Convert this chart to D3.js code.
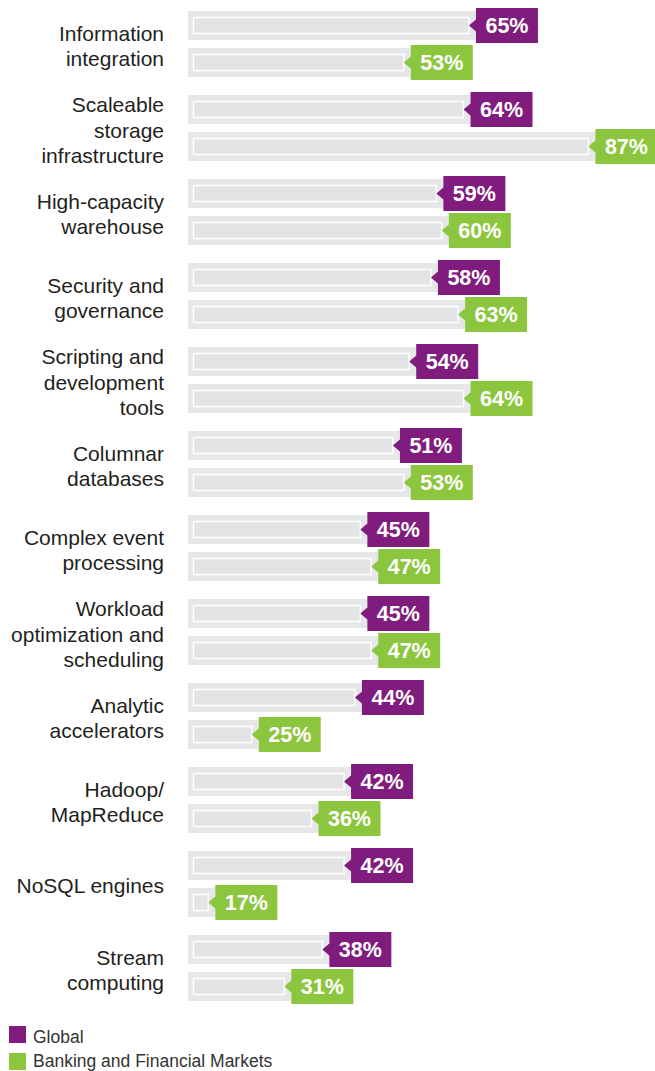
<!DOCTYPE html>
<html>
<head>
<meta charset="utf-8">
<script src="https://cdn.jsdelivr.net/npm/d3@7"></script>
<style>
  body { margin: 0; background: #fff; }
  svg { display: block; }
</style>
</head>
<body>
<svg id="chart"></svg>
<script>
const width = 655;
const height = 1071;

// categories, "|" marks a line break in the label
const categories = [
  "Information|integration",
  "Scaleable|storage|infrastructure",
  "High-capacity|warehouse",
  "Security and|governance",
  "Scripting and|development|tools",
  "Columnar|databases",
  "Complex event|processing",
  "Workload|optimization and|scheduling",
  "Analytic|accelerators",
  "Hadoop/|MapReduce",
  "NoSQL engines",
  "Stream|computing"
];
const globalValues  = [65, 64, 59, 58, 54, 51, 45, 45, 44, 42, 42, 38];
const bankingValues = [53, 87, 60, 63, 64, 53, 47, 47, 25, 36, 17, 31];
const seriesKeys = ["global", "banking"];
const seriesNames = ["Global", "Banking and Financial Markets"];
const seriesColors = ["#7f1c7d", "#8cc63f"];

const rows = categories.map((c, i) => ({
  name: c,
  values: [globalValues[i], bankingValues[i]]
}));

const svg = d3.select("#chart")
    .attr("width", width)
    .attr("height", height)
    .attr("viewBox", [0, 0, width, height]);

const x = d3.scaleLinear([0, 100], [123, 666]);
const y0 = d3.scaleBand(categories, [11, 1001]).paddingInner(18 / 84).paddingOuter(0);
const y1 = d3.scaleBand(seriesKeys, [0, y0.bandwidth()]).paddingInner(8 / 37).paddingOuter(0);

const trackStart = 188;
const notch = 7;
const boxW = 62;

const group = svg.append("g").selectAll("g")
  .data(rows)
  .join("g")
    .attr("transform", d => `translate(0,${y0(d.name)})`);

// category labels
group.append("text")
    .attr("text-anchor", "end")
    .attr("font-family", "'Liberation Sans', Arial, sans-serif")
    .attr("font-size", "21px")
    .attr("fill", "#231f20")
    .each(function(d) {
      const lines = d.name.split("|");
      const first = y0.bandwidth() / 2 + 9 - (lines.length - 1) * 12.5;
      d3.select(this).selectAll("tspan")
        .data(lines)
        .join("tspan")
          .attr("x", 164)
          .attr("y", (l, i) => first + i * 25.5)
          .text(l => l);
    });

const bar = group.selectAll("g.bar")
  .data(d => d.values.map((v, i) => ({key: seriesKeys[i], value: v, color: seriesColors[i]})))
  .join("g")
    .attr("class", "bar")
    .attr("transform", d => `translate(0,${y1(d.key)})`);

const bh = y1.bandwidth();

// outer grey track
bar.append("rect")
    .attr("x", trackStart)
    .attr("y", 0)
    .attr("width", d => x(d.value) - trackStart)
    .attr("height", bh)
    .attr("fill", "#e6e7e8");

// inner outlined track
bar.append("rect")
    .attr("x", trackStart + 5.5)
    .attr("y", 6.5)
    .attr("width", d => x(d.value) - notch - trackStart - 5.5)
    .attr("height", bh - 13)
    .attr("fill", "#e3e4e6")
    .attr("stroke", "#fff")
    .attr("stroke-width", 1.5);

// value box with notch
bar.append("path")
    .attr("fill", d => d.color)
    .attr("d", d => {
      const l = x(d.value), c = bh / 2;
      return `M${l},-3 H${l + boxW} V${bh + 3} H${l} V${c + 6} L${l - notch},${c} L${l},${c - 6} Z`;
    });

bar.append("text")
    .attr("x", d => x(d.value) + boxW / 2)
    .attr("y", bh / 2 + 7.5)
    .attr("text-anchor", "middle")
    .attr("font-family", "'Liberation Sans', Arial, sans-serif")
    .attr("font-weight", "bold")
    .attr("font-size", "21.5px")
    .attr("fill", "#fff")
    .text(d => `${d.value}%`);

// legend
const legend = svg.append("g").selectAll("g")
  .data(seriesNames)
  .join("g")
    .attr("transform", (d, i) => `translate(9,${1026 + i * 27})`);

legend.append("rect")
    .attr("width", 17)
    .attr("height", 17)
    .attr("fill", (d, i) => seriesColors[i]);

legend.append("text")
    .attr("x", 24)
    .attr("y", (d, i) => 17 - i * 3)
    .attr("font-family", "'Liberation Sans', Arial, sans-serif")
    .attr("font-size", "17.5px")
    .attr("fill", "#333")
    .text(d => d);
</script>
</body>
</html>
